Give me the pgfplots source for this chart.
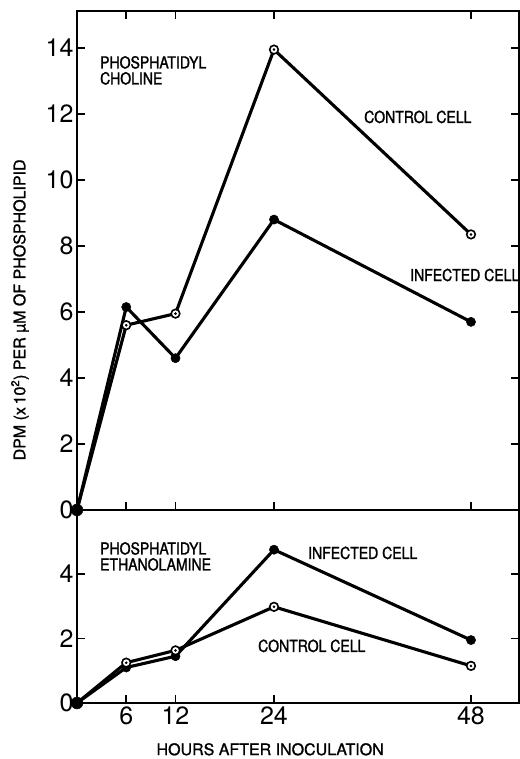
\documentclass[border=0pt]{standalone}
\usepackage{fontspec}
\setmainfont{TeX Gyre Heros}
\newfontfamily\lett[FakeStretch=0.85,FakeBold=1.4]{TeX Gyre Heros}
\newfontfamily\labf[FakeBold=1.2]{TeX Gyre Heros}
\usepackage{pgfplots}
\usepackage{pgfplotstable}
\pgfplotsset{compat=1.18}

\pgfplotstableread{
h ctrl inf
0 0 0
6 5.6 6.15
12 5.95 4.6
24 13.95 8.8
48 8.35 5.7
}\pc
\pgfplotstableread{
h ctrl inf
0 0 0
6 1.25 1.1
12 1.63 1.45
24 2.98 4.75
48 1.15 1.95
}\pe

\newcommand{\annot}{\lett\fontsize{16.5}{16}\selectfont}
\tikzset{ann/.style={font=\annot, inner sep=0pt, align=left}}

\begin{document}
\begin{tikzpicture}
\path[use as bounding box] (-77pt,-56pt) rectangle (442pt,703pt);
\pgfplotsset{
  every axis/.append style={
    scale only axis, width=442pt,
    xmin=0, xmax=53.85, clip=false,
    axis line style={line width=2.2pt},
    tick style={line width=1.8pt, black},
    major tick length=8pt, tick align=inside,
    xtick={6,12,24,48},
    /pgf/number format/assume math mode=true,
    ticklabel style={font=\fontsize{25}{25}\selectfont},
  },
  inf/.style={black, line width=3.1pt, mark=*, mark size=4.6pt, mark options={fill=black, line width=0.5pt}},
  ctl/.style={black, line width=3.1pt, mark=*, mark size=4.3pt, mark options={fill=white, draw=black, line width=1.6pt}},
  dot/.style={black, only marks, mark=*, mark size=1.1pt},
}
% top panel
\begin{axis}[
  at={(0,193pt)}, anchor=south west, height=499pt,
  ymin=0, ymax=15.12, ytick={0,2,...,14},
  xticklabels={},
  ylabel={DPM (x\,10\textsuperscript{2}) PER µM OF PHOSPHOLIPID},
  ylabel style={at={(axis description cs:-0.129,0.401)}, anchor=center, font=\labf\fontsize{16}{16}\selectfont, inner sep=0pt},
]
\addplot[inf] table[x=h,y=inf]{\pc};
\addplot[ctl] table[x=h,y=ctrl]{\pc};
\addplot[dot] table[x=h,y=ctrl]{\pc};
\addplot[black, only marks, mark=*, mark size=6pt] coordinates {(0,0)};
\node[ann, anchor=north west] at (axis cs:2.8,13.76) {PHOSPHATIDYL\\CHOLINE};
\node[ann, anchor=west] at (axis cs:34.97,11.91) {CONTROL CELL};
\node[ann, anchor=west] at (axis cs:40.57,7.12) {INFECTED CELL};
\end{axis}
% bottom panel
\begin{axis}[
  at={(0,0)}, anchor=south west, height=193pt,
  ymin=0, ymax=5.98, ytick={0,2,4},
  xtick pos=left,
  xlabel={HOURS AFTER INOCULATION},
  xlabel style={at={(axis description cs:0.437,-0.24)}, anchor=center, font=\labf\fontsize{16}{16}\selectfont, inner sep=0pt},
]
\addplot[inf] table[x=h,y=inf]{\pe};
\addplot[ctl] table[x=h,y=ctrl]{\pe};
\addplot[dot] table[x=h,y=ctrl]{\pe};
\addplot[black, only marks, mark=*, mark size=6pt] coordinates {(0,0)};
\node[ann, anchor=north west] at (axis cs:2.8,4.99) {PHOSPHATIDYL\\ETHANOLAMINE};
\node[ann, anchor=west] at (axis cs:28.14,4.65) {INFECTED CELL};
\node[ann, anchor=west] at (axis cs:22.05,1.77) {CONTROL CELL};
\end{axis}
\end{tikzpicture}
\end{document}
